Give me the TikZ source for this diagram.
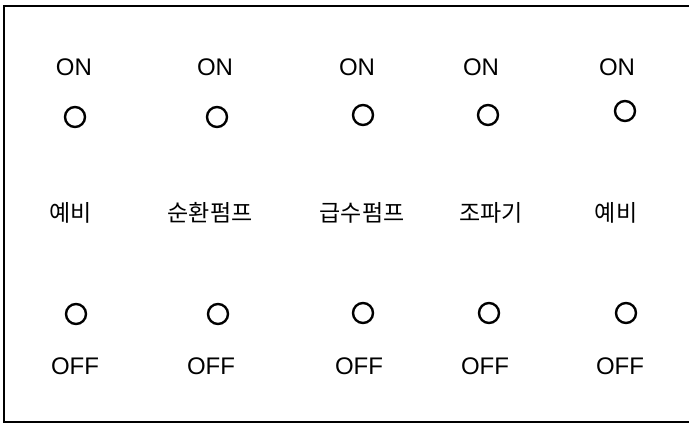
\documentclass[tikz,border=0pt]{standalone}
\usepackage{fontspec}
\setmainfont{Liberation Sans}
\newfontfamily\krfont{Noto Sans CJK KR}
\begin{document}
\begin{tikzpicture}[x=1pt,y=-1pt,
  lbl/.style={font=\fontsize{24}{26}\selectfont, inner sep=0pt, anchor=center},
  krl/.style={font=\krfont\fontsize{23}{26}\selectfont, inner sep=0pt, anchor=center},
  lamp/.style={circle, draw, line width=2.4pt, minimum size=20pt, inner sep=0pt},
  frame/.style={line width=1.8pt}]
\useasboundingbox (0,0) rectangle (689,425);
\draw[frame] (690,6) -- (4,6) -- (4,422) -- (690,422);
% ON labels
\node[lbl] (on1) at (74,67) {ON};
\node[lbl] (on2) at (215,67) {ON};
\node[lbl] (on3) at (357,67) {ON};
\node[lbl] (on4) at (481,67) {ON};
\node[lbl] (on5) at (617,67) {ON};
% top lamps
\node[lamp] (t1) at (75,117) {};
\node[lamp] (t2) at (217,117) {};
\node[lamp] (t3) at (363,115) {};
\node[lamp] (t4) at (488,115) {};
\node[lamp] (t5) at (625,111) {};
% names
\node[krl] (n1) at (71,213) {예비};
\node[krl] (n2) at (210,213) {순환펌프};
\node[krl] (n3) at (362,213) {급수펌프};
\node[krl] (n4) at (491,213) {조파기};
\node[krl] (n5) at (616,213) {예비};
% bottom lamps
\node[lamp] (b1) at (76,314) {};
\node[lamp] (b2) at (218,314) {};
\node[lamp] (b3) at (363,313) {};
\node[lamp] (b4) at (489,313) {};
\node[lamp] (b5) at (626,313) {};
% OFF labels
\node[lbl] (off1) at (75,366) {OFF};
\node[lbl] (off2) at (211,366) {OFF};
\node[lbl] (off3) at (359,366) {OFF};
\node[lbl] (off4) at (485,366) {OFF};
\node[lbl] (off5) at (620,366) {OFF};
\end{tikzpicture}
\end{document}
